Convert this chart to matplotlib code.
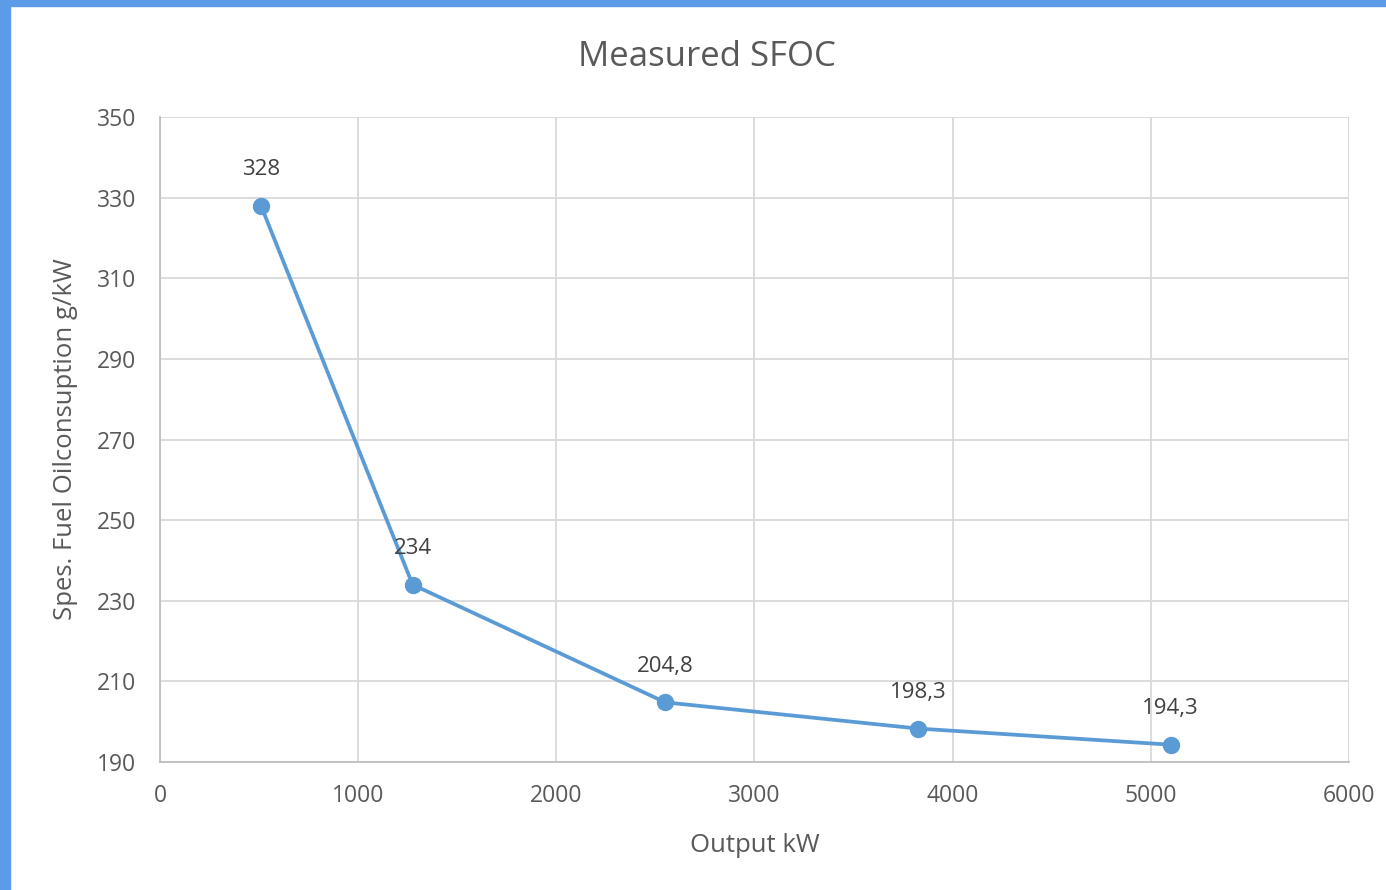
import matplotlib.pyplot as plt
from matplotlib.patches import Rectangle

# data
output_kw = [510, 1275, 2550, 3825, 5100]
sfoc = [328, 234, 204.8, 198.3, 194.3]
labels = ['328', '234', '204,8', '198,3', '194,3']

plt.rcParams['font.family'] = ['Open Sans', 'DejaVu Sans']
txt = '#595959'

fig = plt.figure(figsize=(13.86, 8.90), dpi=100)
ax = fig.add_axes([0.1154, 0.1438, 0.8579, 0.7247])

ax.plot(output_kw, sfoc, color='#5B9BD5', lw=2.7, marker='o', ms=11.5, zorder=3)
for x, y, s in zip(output_kw, sfoc, labels):
    ax.annotate(s, (x, y), xytext=(0, 26), textcoords='offset points',
                ha='center', va='center', fontsize=16, color='#404040')

ax.set_xlim(0, 6000)
ax.set_ylim(190, 350)
ax.set_xticks(range(0, 6001, 1000))
ax.set_yticks(range(190, 351, 20))
ax.grid(True, color='#D9D9D9', lw=1.3)
ax.set_axisbelow(True)
for side in ['top', 'right']:
    ax.spines[side].set_visible(False)
for side in ['left', 'bottom']:
    ax.spines[side].set_color('#BFBFBF')
    ax.spines[side].set_linewidth(1.3)
ax.tick_params(length=0, labelsize=16.5, colors=txt)
ax.tick_params(axis='y', pad=17)
ax.tick_params(axis='x', pad=16)

fig.text(0.510, 0.936, 'Measured SFOC', fontsize=25, color=txt, ha='center', va='center')
ax.set_xlabel('Output kW', fontsize=18.5, color=txt, labelpad=18)
ax.set_ylabel('Spes. Fuel Oilconsuption g/kW', fontsize=18.5, color=txt, labelpad=14)

# blue window frame on the left and top edge
fig.patches.append(Rectangle((0, 0), 10 / 1386, 1, transform=fig.transFigure,
                             color='#5B9BE8', zorder=0))
fig.patches.append(Rectangle((0, 1 - 6 / 890), 1, 6 / 890, transform=fig.transFigure,
                             color='#5B9BE8', zorder=0))

fig.savefig('out.png', dpi=100)
